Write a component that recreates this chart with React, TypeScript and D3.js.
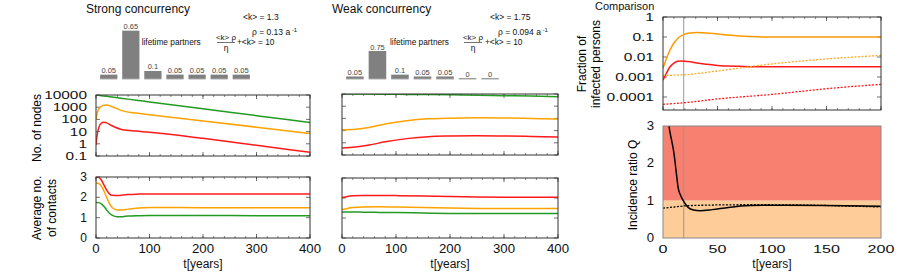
import React from 'react'
import * as d3 from 'd3'

const FONT = '"Liberation Sans", Arial, Helvetica, sans-serif'

// lifetime partner distributions (bars)
const partnerBins = ['1', '2', '3', '4', '5', '6', '7']
const strongPartners = [0.05, 0.65, 0.1, 0.05, 0.05, 0.05, 0.05]
const weakPartners = [0.05, 0.75, 0.1, 0.05, 0.05, 0, 0]

// strong concurrency, no. of nodes
const strongNodeTime = [0, 2, 5, 10, 15, 20, 30, 50, 75, 100, 200, 300, 400]
const strongNodesGreen = [10000, 9740, 9370, 8780, 8220, 7710, 6770, 5220, 3770, 2720, 740, 202, 55]
const strongNodesOrange = [100, 300, 700, 1200, 1450, 1500, 1100, 500, 330, 245, 75, 23, 7]
const strongNodesRed = [0.8, 5, 20, 50, 59, 52, 30, 14, 11, 9, 2.8, 0.75, 0.2]

// weak concurrency, no. of nodes
const weakNodeTime = [0, 25, 50, 80, 120, 160, 200, 250, 300, 350, 400]
const weakNodesGreen = [10000, 9900, 9800, 9600, 9300, 9000, 8600, 8000, 7300, 6700, 6000]
const weakNodesOrange = [11.5, 13, 18, 35, 65, 92, 105, 112, 108, 98, 88]
const weakNodesRed = [0.38, 0.45, 0.65, 1.2, 2.2, 3.2, 3.6, 3.8, 3.6, 3.3, 3.0]

// strong concurrency, average no. of contacts
const strongContactTime = [0, 5, 10, 15, 20, 25, 30, 40, 50, 60, 80, 100, 200, 300, 400]
const strongContactsRed = [3.0, 2.98, 2.85, 2.6, 2.35, 2.17, 2.1, 2.09, 2.11, 2.14, 2.16, 2.17, 2.17, 2.17, 2.17]
const strongContactsOrange = [2.7, 2.68, 2.55, 2.3, 2.0, 1.7, 1.5, 1.38, 1.38, 1.42, 1.48, 1.5, 1.49, 1.49, 1.49]
const strongContactsGreen = [1.75, 1.74, 1.68, 1.55, 1.38, 1.22, 1.12, 1.04, 1.05, 1.08, 1.1, 1.11, 1.11, 1.1, 1.1]

// weak concurrency, average no. of contacts
const weakContactTime = [0, 10, 20, 40, 70, 100, 150, 200, 250, 300, 400]
const weakContactsRed = [2.02, 2.08, 2.11, 2.13, 2.13, 2.12, 2.1, 2.07, 2.05, 2.04, 2.04]
const weakContactsOrange = [1.42, 1.48, 1.52, 1.55, 1.56, 1.55, 1.53, 1.5, 1.48, 1.47, 1.47]
const weakContactsGreen = [1.3, 1.3, 1.3, 1.29, 1.28, 1.27, 1.25, 1.23, 1.22, 1.22, 1.22]

// comparison: fraction of infected persons
const fracTime = [0, 3, 6, 10, 15, 20, 25, 31, 40, 50, 60, 70, 80, 100, 150, 200]
const fracStrongOrange = [0.0027, 0.008, 0.02, 0.05, 0.1, 0.14, 0.16, 0.17, 0.16, 0.14, 0.125, 0.112, 0.105, 0.1, 0.1, 0.1]
const fracStrongRed = [0.0007, 0.0015, 0.003, 0.005, 0.0063, 0.0062, 0.0058, 0.005, 0.0043, 0.0038, 0.0035, 0.0034, 0.0033, 0.0033, 0.0033, 0.0033]
const fracWeakTime = [0, 20, 50, 100, 150, 200]
const fracWeakOrange = [0.0012, 0.0013, 0.002, 0.0045, 0.008, 0.012]
const fracWeakRed = [4.3e-5, 5.2e-5, 8e-5, 1.35e-4, 2.6e-4, 4.3e-4]

// comparison: incidence ratio Q
const qTime = [0, 3, 5.5, 8, 10, 12, 14, 16, 19, 23, 28, 34, 45, 60, 80, 100, 150, 200]
const qSolid = [5, 3.8, 3.0, 2.6, 2.28, 1.8, 1.33, 1.15, 0.98, 0.82, 0.75, 0.73, 0.76, 0.82, 0.87, 0.88, 0.87, 0.85]
const qDottedTime = [0, 10, 20, 40, 70, 100, 150, 200]
const qDotted = [0.8, 0.83, 0.86, 0.88, 0.89, 0.89, 0.87, 0.83]
const referenceYear = 19

const RED = '#ff1a1a'
const ORANGE = '#ffa200'
const GREEN = '#239b23'

type Series = { t: number[]; v: number[]; color: string; dash?: string; width?: number }

function STxt({ x, y, size, sx = 1, anchor = 'middle', children, fill = '#111' }: any) {
  return (
    <text transform={`translate(${x},${y}) scale(${sx},1)`} fontSize={size} textAnchor={anchor}
      fontFamily={FONT} fill={fill}>{children}</text>
  )
}

function LinePanel(p: any) {
  const xs = d3.scaleLinear().domain(p.xDomain).range(p.xRange)
  const ys = (p.log ? d3.scaleLog() : d3.scaleLinear()).domain(p.yDomain).range([p.yRange[1], p.yRange[0]])
  const [x0, x1] = p.xRange
  const [y0, y1] = p.yRange
  const gen = (s: Series) =>
    d3.line<number>().x((_, i) => xs(s.t[i])).y(d => ys(d)).curve(d3.curveMonotoneX)(s.v) || ''
  const xMajor: number[] = p.xMajor
  const xMinor: number[] = p.xMinor || []
  const yMajor: number[] = p.yMajor
  const tc = p.tickColor || '#333'
  return (
    <g>
      <defs>
        <clipPath id={p.id}><rect x={x0} y={y0} width={x1 - x0} height={y1 - y0} /></clipPath>
      </defs>
      {(p.bands || []).map((b: any, i: number) => (
        <rect key={'b' + i} x={x0} width={x1 - x0} y={ys(b.to)} height={ys(b.from) - ys(b.to)} fill={b.color} />
      ))}
      {xMinor.map(v => (
        <g key={'xm' + v} stroke={tc} strokeWidth={0.6}>
          <line x1={xs(v)} x2={xs(v)} y1={y1} y2={y1 - 2} />
          <line x1={xs(v)} x2={xs(v)} y1={y0} y2={y0 + 2} />
        </g>
      ))}
      {xMajor.map(v => (
        <g key={'xM' + v} stroke={tc} strokeWidth={0.7}>
          <line x1={xs(v)} x2={xs(v)} y1={y1} y2={y1 - 4} />
          <line x1={xs(v)} x2={xs(v)} y1={y0} y2={y0 + 4} />
        </g>
      ))}
      {yMajor.map(v => (
        <g key={'yM' + v} stroke={tc} strokeWidth={0.7}>
          <line x1={x0} x2={x0 + 4} y1={ys(v)} y2={ys(v)} />
          <line x1={x1} x2={x1 - 4} y1={ys(v)} y2={ys(v)} />
        </g>
      ))}
      {p.refLine !== undefined && (
        <line x1={xs(p.refLine)} x2={xs(p.refLine)} y1={y0} y2={y1} stroke="#999" strokeWidth={1} />
      )}
      <g clipPath={`url(#${p.id})`}>
        {(p.series as Series[]).map((s, i) => (
          <path key={'s' + i} d={gen(s)} fill="none" stroke={s.color} strokeWidth={s.width || 1.5}
            strokeDasharray={s.dash} />
        ))}
      </g>
      <rect x={x0} y={y0} width={x1 - x0} height={y1 - y0} fill="none" stroke={p.frameColor || '#333'} strokeWidth={1} />
      {p.yLabels && yMajor.map(v => (
        <STxt key={'yl' + v} x={x0 - 9} y={ys(v) + 4} size={p.yFont || 11} sx={p.ySx || 1} anchor="end">
          {String(v)}
        </STxt>
      ))}
      {p.xLabels && xMajor.map(v => (
        <STxt key={'xl' + v} x={xs(v)} y={y1 + 15} size={p.xFont || 12} sx={p.xSx || 1}>{String(v)}</STxt>
      ))}
      {p.xTitle && (
        <STxt x={(x0 + x1) / 2} y={y1 + 30} size={12}>{p.xTitle}</STxt>
      )}
    </g>
  )
}

function Bars({ values, xRange, baseline, unit }: any) {
  const xb = d3.scaleBand<string>().domain(partnerBins).range(xRange).paddingInner(0.22).paddingOuter(0.05)
  const yb = d3.scaleLinear().domain([0, 1]).range([baseline, baseline - unit])
  return (
    <g>
      {(values as number[]).map((v, i) => {
        const x = xb(partnerBins[i]) as number
        return (
          <g key={i}>
            <rect x={x} width={xb.bandwidth()} y={yb(v)} height={yb(0) - yb(v)} fill="#808080" />
            <line x1={x} x2={x + xb.bandwidth()} y1={baseline + 0.5} y2={baseline + 0.5} stroke="#777" strokeWidth={1} />
            <text x={x + xb.bandwidth() / 2} y={yb(v) - 1.5} fontSize={7.5} textAnchor="middle"
              fontFamily={FONT} fill="#444">{String(v)}</text>
          </g>
        )
      })}
    </g>
  )
}

function Params({ k, rho, lpX, fracX, plusX, kX, rhoX }: any) {
  return (
    <g fontFamily={FONT} fill="#111">
      <text x={kX} y={20} fontSize={8.5}>{`<k> = ${k}`}</text>
      <text x={rhoX} y={35} fontSize={8.5}>{`ρ  = ${rho} a`}<tspan fontSize={6} dy={-3}>{' -1'}</tspan></text>
      <text x={lpX} y={45} fontSize={8.3}>lifetime partners</text>
      <text x={fracX} y={40} fontSize={8} textAnchor="middle">{'<k> ρ'}</text>
      <line x1={fracX - 9} x2={fracX + 9} y1={42.5} y2={42.5} stroke="#111" strokeWidth={0.6} />
      <text x={fracX} y={51} fontSize={8.5} textAnchor="middle">η</text>
      <text x={plusX} y={45} fontSize={8.3}>{'+<k> = 10'}</text>
    </g>
  )
}

export default function App() {
  const nodesTicks = [0.1, 1, 10, 100, 1000, 10000]
  const leftXMajor = [0, 100, 200, 300, 400]
  const leftXMinor = d3.range(0, 401, 20)
  const contactTicks = [0, 1, 2, 3]
  return (
    <svg width={913} height={273} style={{ position: 'absolute', left: 0, top: 0, background: '#fff' }}>
      <STxt x={86} y={13} size={12} anchor="start">Strong concurrency</STxt>
      <STxt x={332} y={13} size={12} anchor="start">Weak concurrency</STxt>
      <STxt x={595} y={10} size={11} anchor="start">Comparison</STxt>

      <Bars values={strongPartners} xRange={[99, 251]} baseline={78.3} unit={73.3} />
      <Bars values={weakPartners} xRange={[345, 500]} baseline={78.3} unit={36.4} />
      <Params k="1.3" rho="0.13" kX={243} rhoX={252} lpX={141.7} fracX={226} plusX={237} />
      <Params k="1.75" rho="0.094" kX={490} rhoX={498} lpX={390} fracX={473} plusX={485} />

      <text transform="translate(41,128) rotate(-90)" fontSize={12} textAnchor="middle" fontFamily={FONT}>No. of nodes</text>
      <text transform="translate(41,208) rotate(-90)" fontSize={12} textAnchor="middle" fontFamily={FONT}>Average no.</text>
      <text transform="translate(56,208) rotate(-90)" fontSize={12} textAnchor="middle" fontFamily={FONT}>of contacts</text>

      <LinePanel id="c1" xRange={[96, 310]} yRange={[95, 156]} xDomain={[0, 400]} yDomain={[0.1, 10000]} log
        xMajor={leftXMajor} xMinor={leftXMinor} yMajor={nodesTicks} yLabels yFont={11} ySx={1.4}
        series={[
          { t: strongNodeTime, v: strongNodesGreen, color: GREEN },
          { t: strongNodeTime, v: strongNodesOrange, color: ORANGE },
          { t: strongNodeTime, v: strongNodesRed, color: RED },
        ]} />
      <LinePanel id="c2" xRange={[96, 310]} yRange={[177, 238]} xDomain={[0, 400]} yDomain={[0, 3]}
        xMajor={leftXMajor} xMinor={leftXMinor} yMajor={contactTicks} yLabels yFont={12}
        xLabels xSx={1.1} xTitle="t[years]"
        series={[
          { t: strongContactTime, v: strongContactsRed, color: RED },
          { t: strongContactTime, v: strongContactsOrange, color: ORANGE },
          { t: strongContactTime, v: strongContactsGreen, color: GREEN },
        ]} />
      <LinePanel id="c3" xRange={[342, 558]} yRange={[94, 155]} xDomain={[0, 400]} yDomain={[0.1, 10000]} log
        xMajor={leftXMajor} xMinor={leftXMinor} yMajor={nodesTicks}
        series={[
          { t: weakNodeTime, v: weakNodesGreen, color: GREEN },
          { t: weakNodeTime, v: weakNodesOrange, color: ORANGE },
          { t: weakNodeTime, v: weakNodesRed, color: RED },
        ]} />
      <LinePanel id="c4" xRange={[342, 558]} yRange={[178, 238]} xDomain={[0, 400]} yDomain={[0, 3]}
        xMajor={leftXMajor} xMinor={leftXMinor} yMajor={contactTicks}
        xLabels xSx={1.1} xTitle="t[years]"
        series={[
          { t: weakContactTime, v: weakContactsRed, color: RED },
          { t: weakContactTime, v: weakContactsOrange, color: ORANGE },
          { t: weakContactTime, v: weakContactsGreen, color: GREEN },
        ]} />

      <text transform="translate(586,64) rotate(-90)" fontSize={12} textAnchor="middle" fontFamily={FONT}>Fraction of</text>
      <text transform="translate(600,64) rotate(-90)" fontSize={12} textAnchor="middle" fontFamily={FONT}>infected persons</text>
      <text transform="translate(637,185) rotate(-90)" fontSize={12} textAnchor="middle" fontFamily={FONT}>Incidence ratio Q</text>

      <LinePanel id="c5" xRange={[663, 881]} yRange={[17, 110]} xDomain={[0, 200]} yDomain={[2.24e-5, 1]} log
        xMajor={[0, 50, 100, 150, 200]} xMinor={d3.range(0, 201, 10)} yMajor={[0.0001, 0.001, 0.01, 0.1, 1]}
        yLabels yFont={11.5} ySx={1.35} refLine={referenceYear}
        series={[
          { t: fracTime, v: fracStrongOrange, color: '#ff9900' },
          { t: fracTime, v: fracStrongRed, color: RED },
          { t: fracWeakTime, v: fracWeakOrange, color: '#ffaa22', dash: '2,1.5', width: 1.3 },
          { t: fracWeakTime, v: fracWeakRed, color: RED, dash: '2,1.5', width: 1.3 },
        ]} />
      <LinePanel id="c6" xRange={[663, 881]} yRange={[126, 238]} xDomain={[0, 200]} yDomain={[0, 3]}
        xMajor={[0, 50, 100, 150, 200]} yMajor={[0, 1, 2, 3]} yLabels yFont={12} ySx={1.1}
        xLabels xFont={11.5} xSx={1.4} xTitle="t[years]" frameColor="#888" tickColor="none"
        refLine={referenceYear}
        bands={[{ from: 1, to: 3, color: '#f88070' }, { from: 0, to: 1, color: '#fecc99' }]}
        series={[
          { t: qTime, v: qSolid, color: '#000', width: 1.5 },
          { t: qDottedTime, v: qDotted, color: '#000', dash: '2,1.5', width: 1.3 },
        ]} />
    </svg>
  )
}
